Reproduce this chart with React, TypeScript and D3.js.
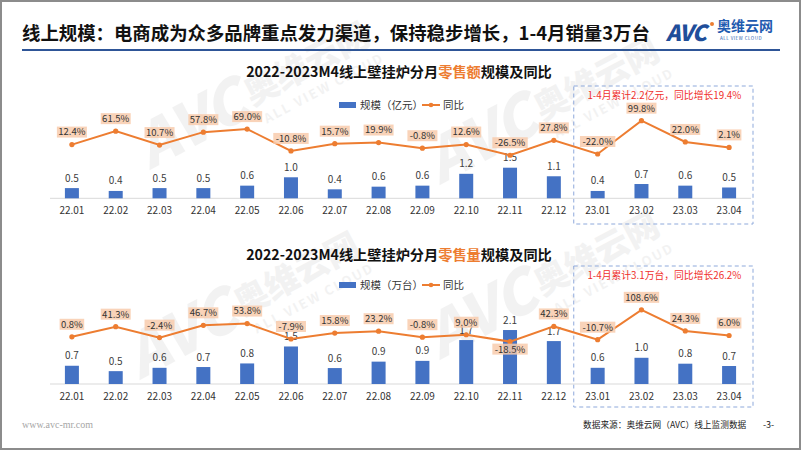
import React from "react";
import * as d3 from "d3";

const months = ["22.01","22.02","22.03","22.04","22.05","22.06","22.07","22.08","22.09","22.10","22.11","22.12","23.01","23.02","23.03","23.04"];
const salesValue = [0.5,0.36,0.5,0.5,0.62,1.03,0.44,0.57,0.62,1.2,1.5,1.08,0.36,0.7,0.62,0.53];
const salesValueYoy = [12.4,61.5,10.7,57.8,69.0,-10.8,15.7,19.9,-0.8,12.6,-26.5,27.8,-22.0,99.8,22.0,2.1];
const salesVolume = [0.71,0.5,0.63,0.66,0.8,1.46,0.62,0.87,0.9,1.71,2.1,1.67,0.63,1.02,0.79,0.7];
const salesVolumeYoy = [0.8,41.3,-2.4,46.7,53.8,-7.9,15.8,23.2,-0.8,9.0,-18.5,42.3,-10.7,108.6,24.3,6.0];
const belowLabels2 = ["22.11"];

const FONT = "'Noto Sans CJK SC', 'Noto Sans', sans-serif";
const BLUE = "#4472C4";
const ORANGE = "#ED7D31";

type PanelProps = {
  titleY: number;
  legendY: number;
  noteY: number;
  boxTop: number;
  boxBottom: number;
  titlePre: string;
  titleHi: string;
  titlePost: string;
  legendLabel: string;
  note: string;
  values: number[];
  yoy: number[];
  barRange: [number, number];
  yoyDomain: [number, number];
  yoyRange: [number, number];
  below: string[];
};

function Panel(p: PanelProps) {
  const x = d3.scaleBand<string>().domain(months).range([50, 751]).padding(0);
  const base = p.barRange[0];
  const yBar = d3.scaleLinear().domain([0, 2]).range(p.barRange);
  const yLine = d3.scaleLinear().domain(p.yoyDomain).range(p.yoyRange);
  const cx = (m: string) => (x(m) as number) + x.bandwidth() / 2;
  const line = d3.line<number>().x((_, i) => cx(months[i])).y((d) => yLine(d));
  const boxL = cx("23.01") - x.bandwidth() / 2 - 2;
  const boxR = cx("23.04") + x.bandwidth() / 2 + 2;
  return (
    <g fontFamily={FONT}>
      <text x={399} y={p.titleY + 5} textAnchor="middle" fontSize={14.2} fontWeight={700} fill="#111">
        {p.titlePre}
        <tspan fill={ORANGE}>{p.titleHi}</tspan>
        {p.titlePost}
      </text>
      <rect x={339} y={p.legendY - 3} width={17} height={6} fill={BLUE} />
      <text x={360} y={p.legendY + 3.5} fontSize={10.5} fill="#333">{p.legendLabel}</text>
      <line x1={422} x2={440} y1={p.legendY} y2={p.legendY} stroke={ORANGE} strokeWidth={2} />
      <circle cx={431} cy={p.legendY} r={2.3} fill={ORANGE} />
      <text x={443} y={p.legendY + 3.5} fontSize={10.5} fill="#333">同比</text>

      <rect x={boxL} y={p.boxTop} width={boxR - boxL} height={p.boxBottom - p.boxTop} fill="none" stroke="#8EA9DB" strokeWidth={1} strokeDasharray="4,3" />
      <text x={(boxL + boxR) / 2 + 1} y={p.noteY + 3.5} textAnchor="middle" fontSize={9.8} fill="#F0302C">{p.note}</text>

      <line x1={50} x2={751} y1={base} y2={base} stroke="#D9D9D9" strokeWidth={1} />
      {months.map((m, i) => (
        <g key={m}>
          <rect x={cx(m) - 7} y={yBar(p.values[i])} width={14} height={base - yBar(p.values[i])} fill={BLUE} />
          <text x={cx(m)} y={yBar(p.values[i]) - 6.5} textAnchor="middle" fontSize={10} fill="#404040">{p.values[i].toFixed(1)}</text>
          <text x={cx(m)} y={base + 15.5} textAnchor="middle" fontSize={10} fill="#333">{m}</text>
        </g>
      ))}
      <path d={line(p.yoy) || ""} fill="none" stroke={ORANGE} strokeWidth={2} />
      {months.map((m, i) => {
        const py = yLine(p.yoy[i]);
        const below = p.below.includes(m);
        const cy = below ? py + 7.5 : py - 12.5;
        const label = p.yoy[i].toFixed(1) + "%";
        const w = label.length * 5.4 + 3;
        return (
          <g key={"l" + m}>
            <circle cx={cx(m)} cy={py} r={2.6} fill={ORANGE} />
            <rect x={cx(m) - w / 2} y={cy - 5.5} width={w} height={11} fill="#F8CBAD" opacity={0.85} />
            <text x={cx(m)} y={cy + 3.4} textAnchor="middle" fontSize={9.5} fill="#333">{label}</text>
          </g>
        );
      })}
    </g>
  );
}

function Watermark({ x, y, r }: { x: number; y: number; r: number }) {
  return (
    <g transform={`translate(${x},${y}) rotate(${r})`} opacity={0.07} fill="#555" fontFamily={FONT}>
      <text x={0} y={0} fontSize={60} fontWeight={900} fontStyle="italic">AVC</text>
      <text x={120} y={-8} fontSize={34} fontWeight={900}>奥维云网</text>
      <text x={125} y={14} fontSize={13} fontWeight={700} letterSpacing={2}>ALL VIEW CLOUD</text>
    </g>
  );
}

export default function App() {
  return (
    <svg width={802} height={451} style={{ position: "absolute", left: 0, top: 0, background: "#fff" }}>
      <rect x={0} y={0} width={802} height={451} fill="#fff" />
      <g fontFamily={FONT}>
        <text x={22} y={40} fontSize={18.4} fontWeight={700} fill="#111">线上规模：电商成为众多品牌重点发力渠道，保持稳步增长，1-4月销量3万台</text>
        <text x={666} y={41} fontSize={22} fontWeight={900} fontStyle="italic" fill="#1F4E9A" letterSpacing={-1}>AVC</text>
        <circle cx={712} cy={24} r={2} fill={ORANGE} />
        <text x={717} y={31} fontSize={14} fontWeight={700} fill="#1F5BB0">奥维云网</text>
        <text x={720} y={40} fontSize={4.5} fill="#1F5BB0" letterSpacing={0.5}>ALL VIEW CLOUD</text>
        <line x1={22} x2={780} y1={50} y2={50} stroke="#2E5597" strokeWidth={2} />
      </g>
      <Watermark x={150} y={170} r={-28} />
      <Watermark x={440} y={185} r={-28} />
      <Watermark x={140} y={380} r={-28} />
      <Watermark x={440} y={360} r={-28} />
      <Panel
        titleY={72}
        legendY={105}
        noteY={95}
        boxTop={86}
        boxBottom={224}
        titlePre="2022-2023M4线上壁挂炉分月"
        titleHi="零售额"
        titlePost="规模及同比"
        legendLabel="规模（亿元）"
        note="1-4月累计2.2亿元，同比增长19.4%"
        values={salesValue}
        yoy={salesValueYoy}
        barRange={[198.3, 157.5]}
        yoyDomain={[-30, 100]}
        yoyRange={[156.2, 120.6]}
        below={[]}
      />
      <Panel
        titleY={255}
        legendY={285}
        noteY={275.7}
        boxTop={266}
        boxBottom={407}
        titlePre="2022-2023M4线上壁挂炉分月"
        titleHi="零售量"
        titlePost="规模及同比"
        legendLabel="规模（万台）"
        note="1-4月累计3.1万台，同比增长26.2%"
        values={salesVolume}
        yoy={salesVolumeYoy}
        barRange={[384, 332.6]}
        yoyDomain={[-20, 110]}
        yoyRange={[342, 309.5]}
        below={belowLabels2}
      />
      <g fontFamily={FONT}>
        <text x={22} y={428} fontSize={10} fill="#A6A6A6" fontFamily="'Liberation Serif', serif">www.avc-mr.com</text>
        <text x={583} y={428} fontSize={8.7} fill="#222">数据来源：奥维云网（AVC）线上监测数据</text>
        <text x={763} y={428} fontSize={9} fill="#222">-3-</text>
      </g>
      <rect x={1} y={1} width={799} height={448} fill="none" stroke="#8C8C8C" strokeWidth={2} />
    </svg>
  );
}
